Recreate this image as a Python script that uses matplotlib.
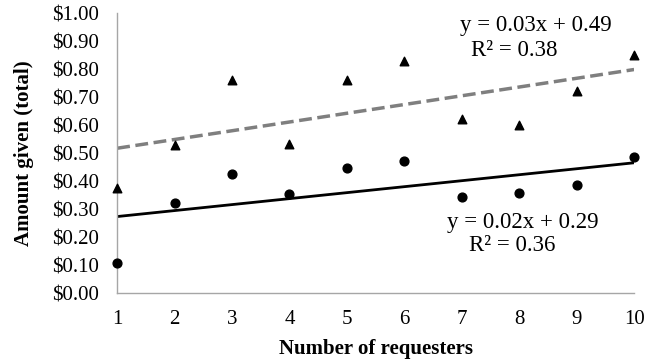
import numpy as np
import matplotlib
matplotlib.use("Agg")
import matplotlib.pyplot as plt
from matplotlib.ticker import FuncFormatter

requesters = [1, 2, 3, 4, 5, 6, 7, 8, 9, 10]
# triangles (upper series) and circles (lower series)
triangle_vals = [0.375, 0.529, 0.761, 0.532, 0.761, 0.829, 0.621, 0.600, 0.721, 0.850]
circle_vals = [0.107, 0.321, 0.425, 0.354, 0.446, 0.471, 0.343, 0.357, 0.386, 0.486]

plt.rcParams['font.family'] = ['Liberation Serif', 'DejaVu Serif']

fig = plt.figure(figsize=(6.51, 3.62), dpi=100)
ax = fig.add_axes([0.18, 0.19, 0.794, 0.774])

x = np.array(requesters, dtype=float)

# trendlines from least squares fit
for vals, style, col, lw in [(triangle_vals, '--', '#7f7f7f', 2.5), (circle_vals, '-', 'black', 2.0)]:
    m, b = np.polyfit(x, vals, 1)
    ax.plot([x[0], x[-1]], [m * x[0] + b, m * x[-1] + b], linestyle=style, color=col, lw=lw, zorder=2)

ax.scatter(x, triangle_vals, marker='^', s=38, color='black', zorder=3, clip_on=False)
ax.scatter(x, circle_vals, marker='o', s=40, color='black', zorder=3, clip_on=False)

ax.set_xlim(1, 10)
ax.set_ylim(0, 1.0)
ax.set_xticks(requesters)
ax.set_yticks(np.arange(0, 1.01, 0.1))
ax.yaxis.set_major_formatter(FuncFormatter(lambda v, p: '${:.2f}'.format(v)))
ax.tick_params(length=0, labelsize=15)
ax.tick_params(axis='x', pad=12)
ax.tick_params(axis='y', pad=13)

for s in ['top', 'right']:
    ax.spines[s].set_visible(False)
for s in ['left', 'bottom']:
    ax.spines[s].set_color('#a6a6a6')
    ax.spines[s].set_linewidth(1.0)

ax.set_xlabel('Number of requesters', fontsize=15, fontweight='bold')
ax.set_ylabel('Amount given (total)', fontsize=15, fontweight='bold')
ax.xaxis.set_label_coords(0.5, -0.164)
ax.yaxis.set_label_coords(-0.16, 0.5)

ax.text(0.663, 0.957, 'y = 0.03x + 0.49', transform=ax.transAxes, fontsize=16.5, va='center', ha='left')
ax.text(0.685, 0.868, 'R² = 0.38', transform=ax.transAxes, fontsize=16.5, va='center', ha='left')
ax.text(0.638, 0.254, 'y = 0.02x + 0.29', transform=ax.transAxes, fontsize=16.5, va='center', ha='left')
ax.text(0.681, 0.172, 'R² = 0.36', transform=ax.transAxes, fontsize=16.5, va='center', ha='left')

fig.savefig('out.png', dpi=100)
